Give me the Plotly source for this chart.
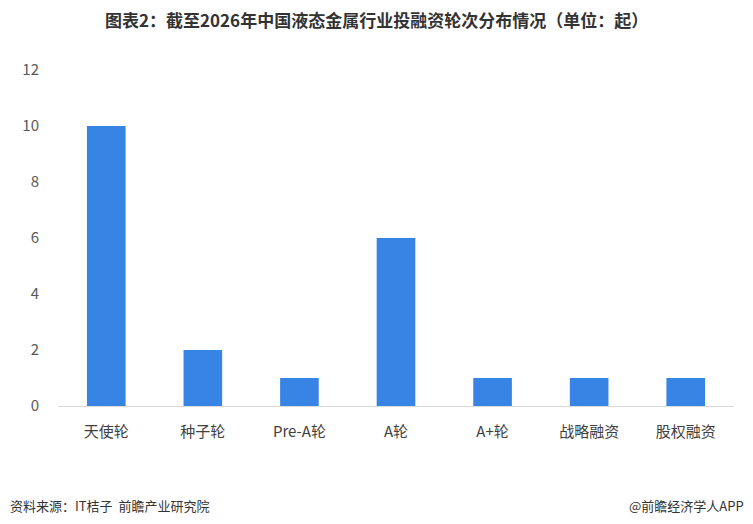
import plotly.graph_objects as go

categories = ["天使轮", "种子轮", "Pre-A轮", "A轮", "A+轮", "战略融资", "股权融资"]
values = [10, 2, 1, 6, 1, 1, 1]
y_ticks = [0, 2, 4, 6, 8, 10, 12]

title_text = "图表2：截至2026年中国液态金属行业投融资轮次分布情况（单位：起）"
source_text = "资料来源：IT桔子  前瞻产业研究院"
brand_text = "@前瞻经济学人APP"

font_family = "Noto Sans CJK SC, Noto Sans, sans-serif"

W, H = 737, 508
L, R, T, B = 50, 11, 62, 110
PW, PH = W - L - R, H - T - B

fig = go.Figure(
    go.Bar(
        x=categories,
        y=values,
        marker=dict(color="#3884E5", line=dict(width=0)),
        width=0.4,
    )
)

fig.update_layout(
    width=W,
    height=H,
    margin=dict(l=L, r=R, t=T, b=B),
    paper_bgcolor="white",
    plot_bgcolor="white",
    showlegend=False,
    font=dict(family=font_family, color="#595959", size=14),
    xaxis=dict(
        showline=True,
        linecolor="#d9d9d9",
        linewidth=1,
        ticks="",
        showgrid=False,
        tickfont=dict(size=15, color="#404040"),
        ticklabelstandoff=12,
    ),
    yaxis=dict(
        range=[0, 12],
        tickvals=y_ticks,
        showgrid=False,
        zeroline=False,
        showline=False,
        ticks="",
        tickfont=dict(size=15, color="#595959"),
        ticklabelstandoff=18,
    ),
    annotations=[
        dict(
            text="<b>" + title_text + "</b>",
            xref="paper", yref="paper",
            x=(368 - L) / PW, y=1 + (T - 11) / PH,
            xanchor="center", yanchor="middle",
            showarrow=False,
            font=dict(size=17, color="#333333", family=font_family),
        ),
        dict(
            text=source_text,
            xref="paper", yref="paper",
            x=-L / PW, y=-99 / PH,
            xanchor="left", yanchor="middle",
            showarrow=False,
            font=dict(size=13, color="#333333", family=font_family),
        ),
        dict(
            text=brand_text,
            xref="paper", yref="paper",
            x=(W + 1 - L) / PW, y=-99 / PH,
            xanchor="right", yanchor="middle",
            showarrow=False,
            font=dict(size=13, color="#333333", family=font_family),
        ),
    ],
)

fig.write_html("out.html")
